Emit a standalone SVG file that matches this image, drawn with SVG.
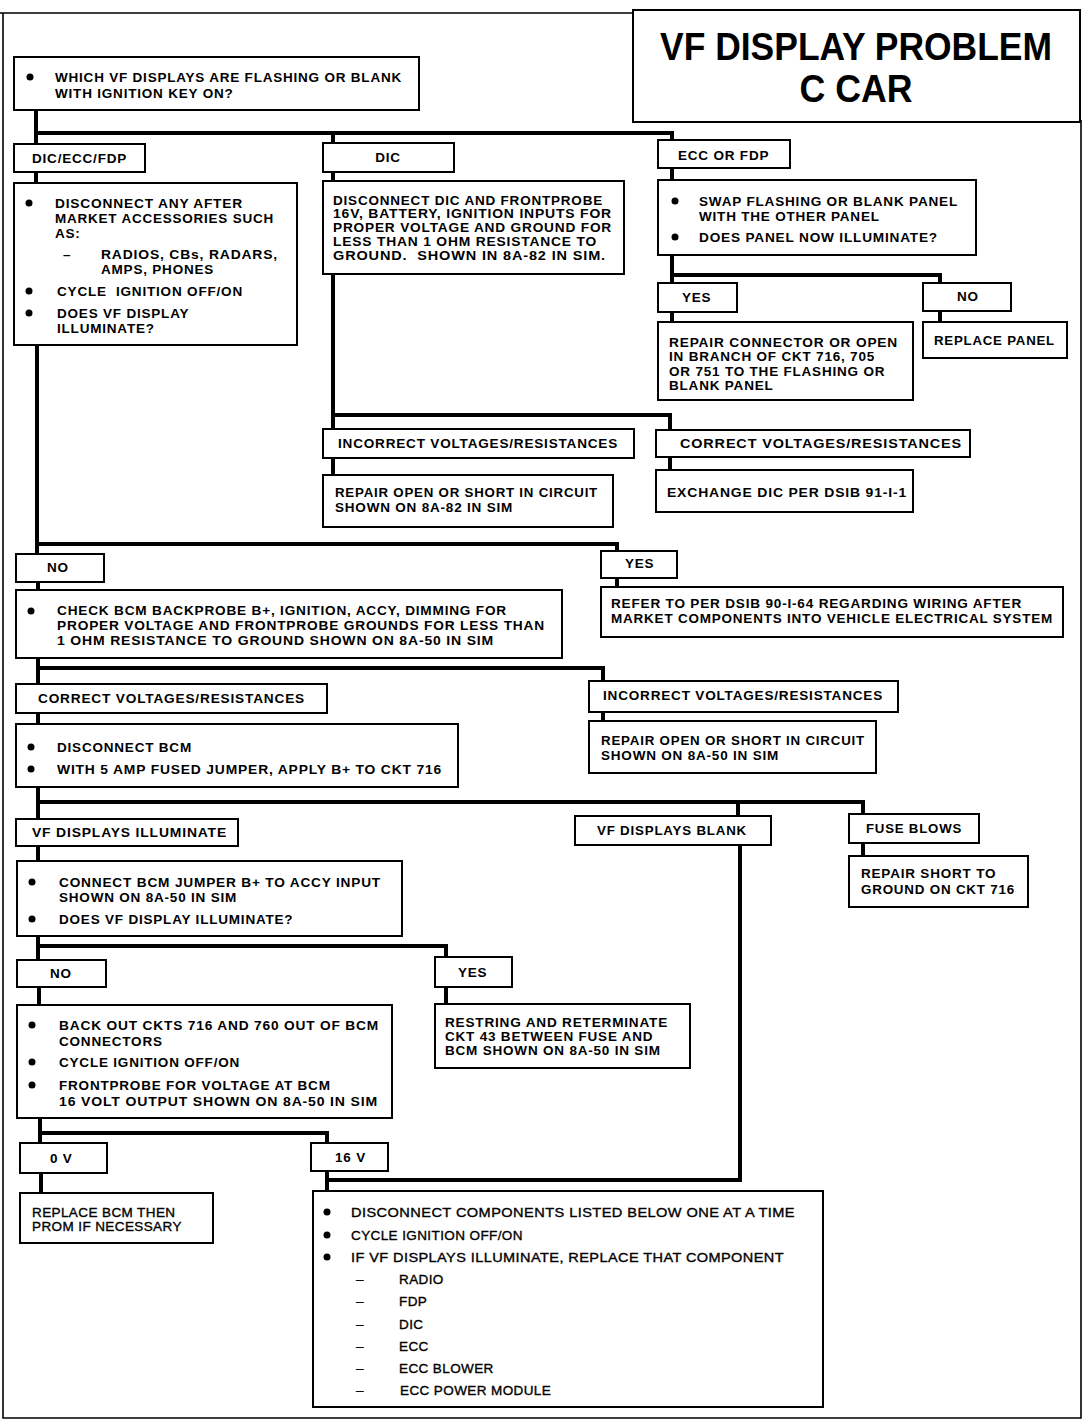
<svg xmlns="http://www.w3.org/2000/svg" width="1088" height="1424" viewBox="0 0 1088 1424">
<style>
.b{fill:#fff;stroke:#000;stroke-width:2}
.c{fill:none;stroke:#000;stroke-width:4}
.f{fill:none;stroke:#000;stroke-width:1.6}
.t{font-family:"Liberation Sans",Arial,Helvetica,sans-serif;font-size:13.5px;font-weight:bold;letter-spacing:0.8px;fill:#000}
.tl{font-family:"Liberation Sans",Arial,Helvetica,sans-serif;font-size:13.5px;font-weight:normal;letter-spacing:0.4px;fill:#000;stroke:#000;stroke-width:0.35}
.h{font-family:"Liberation Sans",Arial,Helvetica,sans-serif;font-size:38px;font-weight:bold;fill:#000;text-anchor:middle}
.m{text-anchor:middle}
.d{fill:#000}
</style>
<rect width="1088" height="1424" fill="#fff"/>
<path class="f" d="M0 13 H633 M3 13 V1418 H1081 V120"/>
<g id="connectors">
<path class="c" d="M36 110 V144 M36 133 H672 V140 M333 133 V143 M36 172 V183"/>
<path class="c" d="M333 172 V181 M333 274 V429 M333 415 H670 V430 M333 458 V475 M670 457 V470"/>
<path class="c" d="M672 168 V180 M672 255 V283 M672 275 H940 V283 M672 312 V322 M940 311 V322"/>
<path class="c" d="M37 345 V554 M37 544 H617 V551 M617 578 V587 M38 582 V590"/>
<path class="c" d="M38 658 V684 M38 668 H603 V681 M603 712 V721 M38 713 V724"/>
<path class="c" d="M38 787 V819 M38 802 H863 V814 M738 802 V816 M863 843 V856 M740 845 V1180 H327"/>
<path class="c" d="M38 846 V861 M38 936 V960 M38 946 H446 V957 M446 987 V1004 M39 987 V1005"/>
<path class="c" d="M40 1118 V1143 M40 1133 H327 V1143 M327 1171 V1191 M41 1173 V1193"/>
</g>
<g id="title">
<rect class="b" x="633" y="10" width="447" height="112"/>
<text class="h" x="856" y="60" textLength="392" lengthAdjust="spacingAndGlyphs">VF DISPLAY PROBLEM</text>
<text class="h" x="856" y="102" textLength="113" lengthAdjust="spacingAndGlyphs">C CAR</text>
</g>
<g id="n1">
<rect class="b" x="14" y="57" width="405" height="53"/>
<circle class="d" cx="30" cy="77" r="3.5"/>
<text class="t" x="55" y="82" textLength="347" lengthAdjust="spacingAndGlyphs">WHICH VF DISPLAYS ARE FLASHING OR BLANK</text>
<text class="t" x="55" y="98">WITH IGNITION KEY ON?</text>
</g>
<g id="l-diceccfdp">
<rect class="b" x="14" y="144" width="131" height="28"/>
<text class="t" x="32" y="163">DIC/ECC/FDP</text>
</g>
<g id="n-aftermarket">
<rect class="b" x="14" y="183" width="283" height="162"/>
<circle class="d" cx="29" cy="203" r="3.5"/>
<text class="t" x="55" y="208" textLength="188" lengthAdjust="spacingAndGlyphs">DISCONNECT ANY AFTER</text>
<text class="t" x="55" y="223" textLength="219" lengthAdjust="spacingAndGlyphs">MARKET ACCESSORIES SUCH</text>
<text class="t" x="55" y="238">AS:</text>
<text class="t" x="63" y="259">–</text>
<text class="t" x="101" y="259" textLength="177" lengthAdjust="spacingAndGlyphs">RADIOS, CBs, RADARS,</text>
<text class="t" x="101" y="274">AMPS, PHONES</text>
<circle class="d" cx="29" cy="291" r="3.5"/>
<text class="t" x="57" y="296" xml:space="preserve" textLength="186" lengthAdjust="spacingAndGlyphs">CYCLE  IGNITION OFF/ON</text>
<circle class="d" cx="29" cy="313" r="3.5"/>
<text class="t" x="57" y="318">DOES VF DISPLAY</text>
<text class="t" x="57" y="333">ILLUMINATE?</text>
</g>
<g id="l-dic">
<rect class="b" x="323" y="143" width="131" height="29"/>
<text class="t m" x="388" y="162">DIC</text>
</g>
<g id="n-dic">
<rect class="b" x="323" y="181" width="301" height="93"/>
<text class="t" x="333" y="205" textLength="270" lengthAdjust="spacingAndGlyphs">DISCONNECT DIC AND FRONTPROBE</text>
<text class="t" x="333" y="218" textLength="279" lengthAdjust="spacingAndGlyphs">16V, BATTERY, IGNITION INPUTS FOR</text>
<text class="t" x="333" y="232" textLength="279" lengthAdjust="spacingAndGlyphs">PROPER VOLTAGE AND GROUND FOR</text>
<text class="t" x="333" y="246" textLength="264" lengthAdjust="spacingAndGlyphs">LESS THAN 1 OHM RESISTANCE TO</text>
<text class="t" x="333" y="260" xml:space="preserve" textLength="273" lengthAdjust="spacingAndGlyphs">GROUND.  SHOWN IN 8A-82 IN SIM.</text>
</g>
<g id="l-incorrect1">
<rect class="b" x="323" y="429" width="311" height="29"/>
<text class="t" x="338" y="448" textLength="280" lengthAdjust="spacingAndGlyphs">INCORRECT VOLTAGES/RESISTANCES</text>
</g>
<g id="n-repair1">
<rect class="b" x="323" y="475" width="290" height="52"/>
<text class="t" x="335" y="497" textLength="263" lengthAdjust="spacingAndGlyphs">REPAIR OPEN OR SHORT IN CIRCUIT</text>
<text class="t" x="335" y="512">SHOWN ON 8A-82 IN SIM</text>
</g>
<g id="l-eccfdp">
<rect class="b" x="658" y="140" width="132" height="28"/>
<text class="t" x="678" y="160">ECC OR FDP</text>
</g>
<g id="n-swap">
<rect class="b" x="658" y="180" width="318" height="75"/>
<circle class="d" cx="675" cy="201" r="3.5"/>
<text class="t" x="699" y="206" textLength="259" lengthAdjust="spacingAndGlyphs">SWAP FLASHING OR BLANK PANEL</text>
<text class="t" x="699" y="221">WITH THE OTHER PANEL</text>
<circle class="d" cx="675" cy="237" r="3.5"/>
<text class="t" x="699" y="242" textLength="239" lengthAdjust="spacingAndGlyphs">DOES PANEL NOW ILLUMINATE?</text>
</g>
<g id="l-yes1">
<rect class="b" x="658" y="283" width="79" height="29"/>
<text class="t" x="682" y="302">YES</text>
</g>
<g id="l-no1">
<rect class="b" x="923" y="283" width="88" height="28"/>
<text class="t" x="957" y="301">NO</text>
</g>
<g id="n-repaircon">
<rect class="b" x="658" y="322" width="255" height="78"/>
<text class="t" x="669" y="347" textLength="229" lengthAdjust="spacingAndGlyphs">REPAIR CONNECTOR OR OPEN</text>
<text class="t" x="669" y="361">IN BRANCH OF CKT 716, 705</text>
<text class="t" x="669" y="376">OR 751 TO THE FLASHING OR</text>
<text class="t" x="669" y="390">BLANK PANEL</text>
</g>
<g id="n-replacepanel">
<rect class="b" x="923" y="322" width="144" height="36"/>
<text class="t" x="934" y="345" textLength="121" lengthAdjust="spacingAndGlyphs">REPLACE PANEL</text>
</g>
<g id="l-correct1">
<rect class="b" x="656" y="430" width="314" height="27"/>
<text class="t" x="680" y="448" textLength="282" lengthAdjust="spacingAndGlyphs">CORRECT VOLTAGES/RESISTANCES</text>
</g>
<g id="n-exchange">
<rect class="b" x="656" y="470" width="257" height="42"/>
<text class="t" x="667" y="497" textLength="240" lengthAdjust="spacingAndGlyphs">EXCHANGE DIC PER DSIB 91-I-1</text>
</g>
<g id="l-no2">
<rect class="b" x="16" y="554" width="88" height="28"/>
<text class="t" x="47" y="572">NO</text>
</g>
<g id="l-yes2">
<rect class="b" x="601" y="551" width="76" height="27"/>
<text class="t" x="625" y="568">YES</text>
</g>
<g id="n-refer">
<rect class="b" x="601" y="587" width="462" height="50"/>
<text class="t" x="611" y="608" textLength="411" lengthAdjust="spacingAndGlyphs">REFER TO PER DSIB 90-I-64 REGARDING WIRING AFTER</text>
<text class="t" x="611" y="623" textLength="442" lengthAdjust="spacingAndGlyphs">MARKET COMPONENTS INTO VEHICLE ELECTRICAL SYSTEM</text>
</g>
<g id="n-checkbcm">
<rect class="b" x="16" y="590" width="546" height="68"/>
<circle class="d" cx="31" cy="611" r="3.5"/>
<text class="t" x="57" y="615" textLength="450" lengthAdjust="spacingAndGlyphs">CHECK BCM BACKPROBE B+, IGNITION, ACCY, DIMMING FOR</text>
<text class="t" x="57" y="630" textLength="488" lengthAdjust="spacingAndGlyphs">PROPER VOLTAGE AND FRONTPROBE GROUNDS FOR LESS THAN</text>
<text class="t" x="57" y="645" textLength="437" lengthAdjust="spacingAndGlyphs">1 OHM RESISTANCE TO GROUND SHOWN ON 8A-50 IN SIM</text>
</g>
<g id="l-correct2">
<rect class="b" x="16" y="684" width="311" height="29"/>
<text class="t" x="38" y="703" textLength="267" lengthAdjust="spacingAndGlyphs">CORRECT VOLTAGES/RESISTANCES</text>
</g>
<g id="n-disconnectbcm">
<rect class="b" x="16" y="724" width="442" height="63"/>
<circle class="d" cx="31" cy="747" r="3.5"/>
<text class="t" x="57" y="752">DISCONNECT BCM</text>
<circle class="d" cx="31" cy="769" r="3.5"/>
<text class="t" x="57" y="774" textLength="385" lengthAdjust="spacingAndGlyphs">WITH 5 AMP FUSED JUMPER, APPLY B+ TO CKT 716</text>
</g>
<g id="l-incorrect2">
<rect class="b" x="589" y="681" width="309" height="31"/>
<text class="t" x="603" y="700" textLength="280" lengthAdjust="spacingAndGlyphs">INCORRECT VOLTAGES/RESISTANCES</text>
</g>
<g id="n-repair2">
<rect class="b" x="589" y="721" width="287" height="52"/>
<text class="t" x="601" y="745" textLength="264" lengthAdjust="spacingAndGlyphs">REPAIR OPEN OR SHORT IN CIRCUIT</text>
<text class="t" x="601" y="760">SHOWN ON 8A-50 IN SIM</text>
</g>
<g id="l-illuminate">
<rect class="b" x="16" y="819" width="222" height="27"/>
<text class="t" x="32" y="837" textLength="195" lengthAdjust="spacingAndGlyphs">VF DISPLAYS ILLUMINATE</text>
</g>
<g id="l-blank">
<rect class="b" x="575" y="816" width="196" height="29"/>
<text class="t" x="597" y="835" textLength="150" lengthAdjust="spacingAndGlyphs">VF DISPLAYS BLANK</text>
</g>
<g id="l-fuse">
<rect class="b" x="849" y="814" width="130" height="29"/>
<text class="t" x="866" y="833" textLength="96" lengthAdjust="spacingAndGlyphs">FUSE BLOWS</text>
</g>
<g id="n-repairshort">
<rect class="b" x="849" y="856" width="179" height="51"/>
<text class="t" x="861" y="878">REPAIR SHORT TO</text>
<text class="t" x="861" y="894" textLength="154" lengthAdjust="spacingAndGlyphs">GROUND ON CKT 716</text>
</g>
<g id="n-connectbcm">
<rect class="b" x="17" y="861" width="385" height="75"/>
<circle class="d" cx="32" cy="882" r="3.5"/>
<text class="t" x="59" y="887" textLength="322" lengthAdjust="spacingAndGlyphs">CONNECT BCM JUMPER B+ TO ACCY INPUT</text>
<text class="t" x="59" y="902">SHOWN ON 8A-50 IN SIM</text>
<circle class="d" cx="32" cy="919" r="3.5"/>
<text class="t" x="59" y="924">DOES VF DISPLAY ILLUMINATE?</text>
</g>
<g id="l-no3">
<rect class="b" x="17" y="960" width="89" height="27"/>
<text class="t" x="50" y="978">NO</text>
</g>
<g id="l-yes3">
<rect class="b" x="435" y="957" width="77" height="30"/>
<text class="t" x="458" y="977">YES</text>
</g>
<g id="n-restring">
<rect class="b" x="435" y="1004" width="255" height="64"/>
<text class="t" x="445" y="1027" textLength="223" lengthAdjust="spacingAndGlyphs">RESTRING AND RETERMINATE</text>
<text class="t" x="445" y="1041">CKT 43 BETWEEN FUSE AND</text>
<text class="t" x="445" y="1055">BCM SHOWN ON 8A-50 IN SIM</text>
</g>
<g id="n-backout">
<rect class="b" x="17" y="1005" width="375" height="113"/>
<circle class="d" cx="32" cy="1025" r="3.5"/>
<text class="t" x="59" y="1030" textLength="320" lengthAdjust="spacingAndGlyphs">BACK OUT CKTS 716 AND 760 OUT OF BCM</text>
<text class="t" x="59" y="1046">CONNECTORS</text>
<circle class="d" cx="32" cy="1062" r="3.5"/>
<text class="t" x="59" y="1067">CYCLE IGNITION OFF/ON</text>
<circle class="d" cx="32" cy="1085" r="3.5"/>
<text class="t" x="59" y="1090">FRONTPROBE FOR VOLTAGE AT BCM</text>
<text class="t" x="59" y="1106" textLength="319" lengthAdjust="spacingAndGlyphs">16 VOLT OUTPUT SHOWN ON 8A-50 IN SIM</text>
</g>
<g id="l-0v">
<rect class="b" x="20" y="1143" width="87" height="30"/>
<text class="t" x="50" y="1163">0 V</text>
</g>
<g id="l-16v">
<rect class="b" x="311" y="1143" width="77" height="28"/>
<text class="t" x="335" y="1162">16 V</text>
</g>
<g id="n-replacebcm">
<rect class="b" x="20" y="1193" width="193" height="50"/>
<text class="tl" x="32" y="1217">REPLACE BCM THEN</text>
<text class="tl" x="32" y="1231">PROM IF NECESSARY</text>
</g>
<g id="n-components">
<rect class="b" x="313" y="1191" width="510" height="216"/>
<circle class="d" cx="327" cy="1212" r="3.5"/>
<text class="tl" x="351" y="1217" textLength="444" lengthAdjust="spacingAndGlyphs">DISCONNECT COMPONENTS LISTED BELOW ONE AT A TIME</text>
<circle class="d" cx="327" cy="1235" r="3.5"/>
<text class="tl" x="351" y="1240">CYCLE IGNITION OFF/ON</text>
<circle class="d" cx="327" cy="1257" r="3.5"/>
<text class="tl" x="351" y="1262" textLength="433" lengthAdjust="spacingAndGlyphs">IF VF DISPLAYS ILLUMINATE, REPLACE THAT COMPONENT</text>
<text class="tl" x="356" y="1284">–</text>
<text class="tl" x="399" y="1284">RADIO</text>
<text class="tl" x="356" y="1306">–</text>
<text class="tl" x="399" y="1306">FDP</text>
<text class="tl" x="356" y="1329">–</text>
<text class="tl" x="399" y="1329">DIC</text>
<text class="tl" x="356" y="1351">–</text>
<text class="tl" x="399" y="1351">ECC</text>
<text class="tl" x="356" y="1373">–</text>
<text class="tl" x="399" y="1373">ECC BLOWER</text>
<text class="tl" x="356" y="1395">–</text>
<text class="tl" x="400" y="1395">ECC POWER MODULE</text>
</g>
</svg>
